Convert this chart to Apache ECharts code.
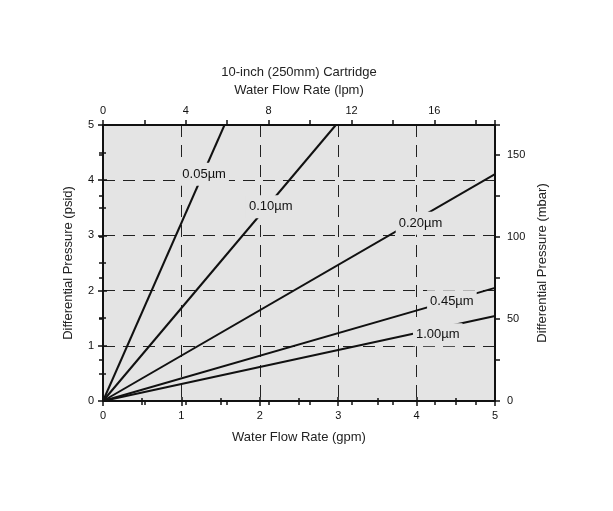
<!DOCTYPE html>
<html>
<head>
<meta charset="utf-8">
<title>10-inch Cartridge pressure drop</title>
<script src="https://cdn.jsdelivr.net/npm/echarts@6/dist/echarts.min.js"></script>
<style>
  html, body { margin: 0; padding: 0; background: #fff; }
  #chart { width: 613px; height: 511px; }
</style>
</head>
<body>
<div id="chart"></div>
<script>
// line end points (every line starts at 0,0)
const poreSizes = ['0.05µm', '0.10µm', '0.20µm', '0.45µm', '1.00µm'];
const endFlowGpm = [1.55, 2.97, 5, 5, 5];
const endPressPsid = [5, 5, 4.11, 2.05, 1.54];
// where each size label sits on its line
const labelFlowGpm = [1.29, 2.14, 4.05, 4.45, 4.27];
const labelPressPsid = [4.11, 3.52, 3.22, 1.80, 1.20];

const gpmMax = 5;
const lpmMax = 18.93;   // 5 gpm in lpm
const psidMax = 5;
const mbarMax = 168;    // right scale as drawn on the original

const font = "'Liberation Sans', Arial, sans-serif";
const black = '#111';

function tickStyle(len) {
  return { show: true, length: len, lineStyle: { color: black, width: 1.5 } };
}

// outer axis (line, labels, outward ticks)
function outerAxis(opt) {
  return Object.assign({
    type: 'value',
    axisLine: { show: true, onZero: false, lineStyle: { color: black, width: 2 } },
    axisTick: tickStyle(5),
    axisLabel: { fontFamily: font, fontSize: 11, color: black },
    splitLine: { show: false },
    nameLocation: 'middle',
    nameTextStyle: { fontFamily: font, fontSize: 13, color: '#222' }
  }, opt);
}

// twin axis that only draws the inward half of the ticks
function innerAxis(opt) {
  return Object.assign({
    type: 'value',
    axisLine: { show: false },
    axisTick: { show: true, inside: true, length: 4, lineStyle: { color: black, width: 1.5 } },
    axisLabel: { show: false },
    splitLine: { show: false }
  }, opt);
}

const dash = { show: true, lineStyle: { color: '#222', width: 1, type: [12, 8] } };
const minor = { show: true, splitNumber: 2, length: 4, lineStyle: { color: black, width: 1.5 } };

const lineSeries = poreSizes.map((s, i) => ({
  name: s,
  type: 'line',
  xAxisIndex: 0,
  yAxisIndex: 0,
  data: [[0, 0], [endFlowGpm[i], endPressPsid[i]]],
  symbol: 'none',
  silent: true,
  z: 3,
  lineStyle: { color: black, width: 2 }
}));

const labelSeries = {
  type: 'scatter',
  xAxisIndex: 0,
  yAxisIndex: 0,
  silent: true,
  z: 6,
  symbolSize: 1,
  itemStyle: { color: 'rgba(0,0,0,0)', opacity: 1 },
  data: poreSizes.map((s, i) => ({ name: s, value: [labelFlowGpm[i], labelPressPsid[i]] })),
  label: {
    show: true,
    position: 'inside',
    formatter: p => p.name,
    fontFamily: font,
    fontSize: 13,
    color: black,
    opacity: 1,
    backgroundColor: '#e4e4e4',
    padding: [5, 3]
  }
};

const option = {
  animation: false,
  backgroundColor: '#fff',
  grid: {
    left: 103, top: 125, right: 118, bottom: 110,
    show: true,
    backgroundColor: '#e4e4e4',
    borderColor: black,
    borderWidth: 2,
    outerBoundsMode: 'none'
  },
  xAxis: [
    outerAxis({
      position: 'bottom', min: 0, max: gpmMax, interval: 1,
      minorTick: minor,
      splitLine: dash,
      axisLabel: { fontFamily: font, fontSize: 11, color: black, margin: 9 },
      name: 'Water Flow Rate (gpm)', nameGap: 30
    }),
    outerAxis({
      position: 'top', min: 0, max: lpmMax, interval: 2,
      axisLabel: { fontFamily: font, fontSize: 11, color: black, margin: 9,
        formatter: v => (v % 4 === 0 ? v : '') },
      name: '10-inch (250mm) Cartridge\nWater Flow Rate (lpm)', nameGap: 26,
      nameTextStyle: { fontFamily: font, fontSize: 13, color: '#222', lineHeight: 18 }
    }),
    innerAxis({ position: 'bottom', min: 0, max: gpmMax, interval: 1,
      minorTick: { show: true, splitNumber: 2, length: 3, lineStyle: { color: black, width: 1.5 } } }),
    innerAxis({ position: 'top', min: 0, max: lpmMax, interval: 2 })
  ],
  yAxis: [
    outerAxis({
      position: 'left', min: 0, max: psidMax, interval: 1,
      minorTick: minor,
      splitLine: dash,
      axisLabel: { fontFamily: font, fontSize: 11, color: black, margin: 9 },
      name: 'Differential Pressure (psid)', nameGap: 28
    }),
    outerAxis({
      position: 'right', min: 0, max: mbarMax, interval: 25,
      axisLabel: { fontFamily: font, fontSize: 11, color: black, margin: 12,
        formatter: v => (v % 50 === 0 ? v : '') },
      name: 'Differential Pressure (mbar)', nameGap: 38
    }),
    innerAxis({ position: 'left', min: 0, max: psidMax, interval: 1,
      minorTick: { show: true, splitNumber: 2, length: 3, lineStyle: { color: black, width: 1.5 } } }),
    innerAxis({ position: 'right', min: 0, max: mbarMax, interval: 25 })
  ],
  series: lineSeries.concat([labelSeries])
};

const chart = echarts.init(document.getElementById('chart'), null, { renderer: 'canvas' });
chart.setOption(option);
</script>
</body>
</html>
